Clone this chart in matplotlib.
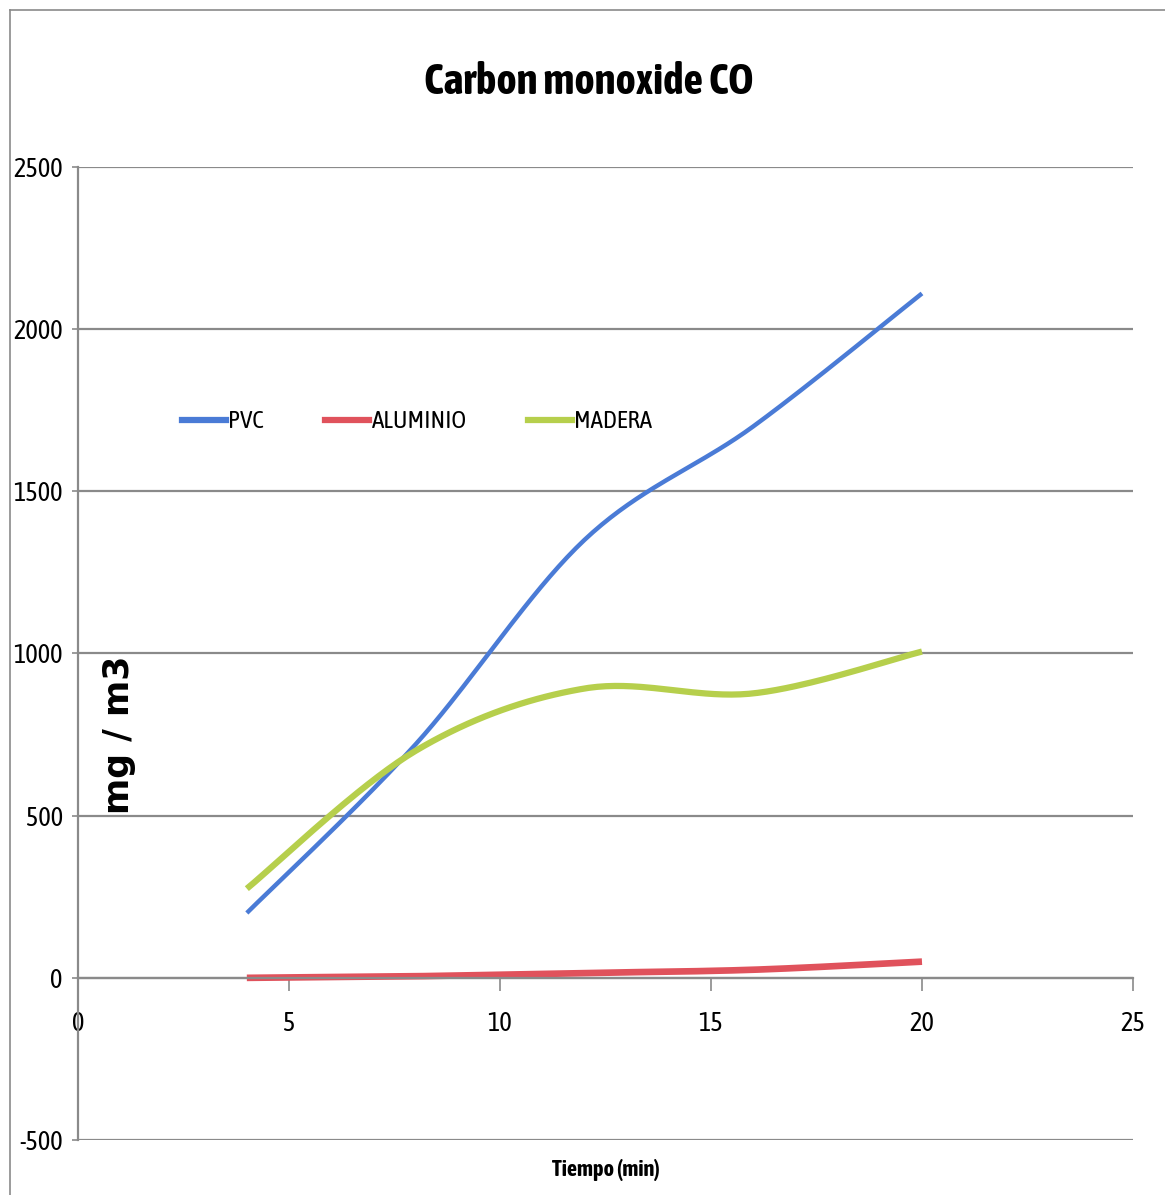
import numpy as np
import matplotlib
matplotlib.use("Agg")
import matplotlib.pyplot as plt
from matplotlib.lines import Line2D
from matplotlib import font_manager

# prefer a condensed face if one is around (one with a bold cut first)
faces = [f for f in font_manager.fontManager.ttflist
         if "Condensed" in f.name or "Narrow" in f.name]
bold_names = [f.name for f in faces if f.weight in ("bold", 700)]
names = bold_names + [f.name for f in faces]
base = names[0] if names else "Liberation Sans"
plt.rcParams['font.family'] = [base, 'DejaVu Sans']
plt.rcParams['axes.unicode_minus'] = False

# time (min) and CO concentration (mg/m3)
tiempo = [4, 8, 12, 16, 20]
pvc = [200, 720, 1350, 1700, 2110]
aluminio = [0, 5, 15, 25, 50]
madera = [275, 700, 892, 877, 1006]

series = [("PVC", pvc, "#4a7bd6", 3.2),
          ("ALUMINIO", aluminio, "#e0525c", 4.8),
          ("MADERA", madera, "#b6cf4c", 4.5)]


def smooth(x, y, n=40):
    # Bezier smoothing like spreadsheet "smoothed line" charts
    x = np.asarray(x, float); y = np.asarray(y, float)
    px = np.concatenate([[x[0]], x, [x[-1]]])
    py = np.concatenate([[y[0]], y, [y[-1]]])
    xs, ys = [], []
    t = np.linspace(0, 1, n)
    for i in range(1, len(px) - 2):
        p0 = np.array([px[i], py[i]]); p3 = np.array([px[i+1], py[i+1]])
        p1 = p0 + (np.array([px[i+1], py[i+1]]) - np.array([px[i-1], py[i-1]])) / 6.
        p2 = p3 - (np.array([px[i+2], py[i+2]]) - np.array([px[i], py[i]])) / 6.
        b = ((1-t)**3)[:, None]*p0 + (3*(1-t)**2*t)[:, None]*p1 + (3*(1-t)*t**2)[:, None]*p2 + (t**3)[:, None]*p3
        xs.append(b[:, 0]); ys.append(b[:, 1])
    return np.concatenate(xs), np.concatenate(ys)


fig = plt.figure(figsize=(11.65, 11.95), dpi=100)
ax = fig.add_axes([0.067, 0.046, 0.9055, 0.8143])

ax.set_xlim(0, 25)
ax.set_ylim(-500, 2500)
ax.set_yticks(np.arange(-500, 2501, 500))
ax.set_xticks(np.arange(0, 26, 5))
ax.yaxis.grid(True, color="#8a8a8a", lw=1.6)
ax.set_axisbelow(True)

for s in ["top", "right"]:
    ax.spines[s].set_visible(False)
ax.spines["bottom"].set_position(("data", 0))
ax.spines["bottom"].set_color("#8a8a8a")
ax.spines["bottom"].set_linewidth(1.6)
ax.spines["left"].set_color("#8a8a8a")
ax.spines["left"].set_linewidth(1.6)

ax.tick_params(axis="x", direction="out", length=9, width=1.2, color="#8a8a8a",
               labelsize=19, pad=15)
ax.tick_params(axis="y", length=4, width=1.2, color="#8a8a8a", labelsize=19, pad=7)

for name, vals, color, lw in series:
    sx, sy = smooth(tiempo, vals)
    ax.plot(sx, sy, color=color, lw=lw, solid_capstyle="butt", label=name)

handles = [Line2D([], [], color=c, lw=4.5) for _, _, c, _ in series]
ax.legend(handles, [n for n, _, _, _ in series], loc="center left",
          bbox_to_anchor=(0.077, 0.738), ncol=3, frameon=False, fontsize=18,
          handlelength=1.76, handletextpad=0.1, columnspacing=2.45)

ax.text(0.039, 0.416, "mg / m3", transform=ax.transAxes, rotation=90,
        family="DejaVu Sans", fontweight="bold", fontsize=25,
        ha="center", va="center")

ax.set_xlabel("Tiempo (min)", fontsize=16, fontweight="bold", labelpad=0)
ax.xaxis.set_label_coords(0.5, -0.02)

fig.text(0.505, 0.931, "Carbon monoxide CO", ha="center", va="center",
         fontsize=31, fontweight="bold")

# outer chart frame
fig.add_artist(Line2D([0.009, 0.009], [0, 0.992], color="#8a8a8a", lw=1.2))
fig.add_artist(Line2D([0.009, 1.0], [0.992, 0.992], color="#8a8a8a", lw=1.2))

fig.savefig("out.png", dpi=100)
